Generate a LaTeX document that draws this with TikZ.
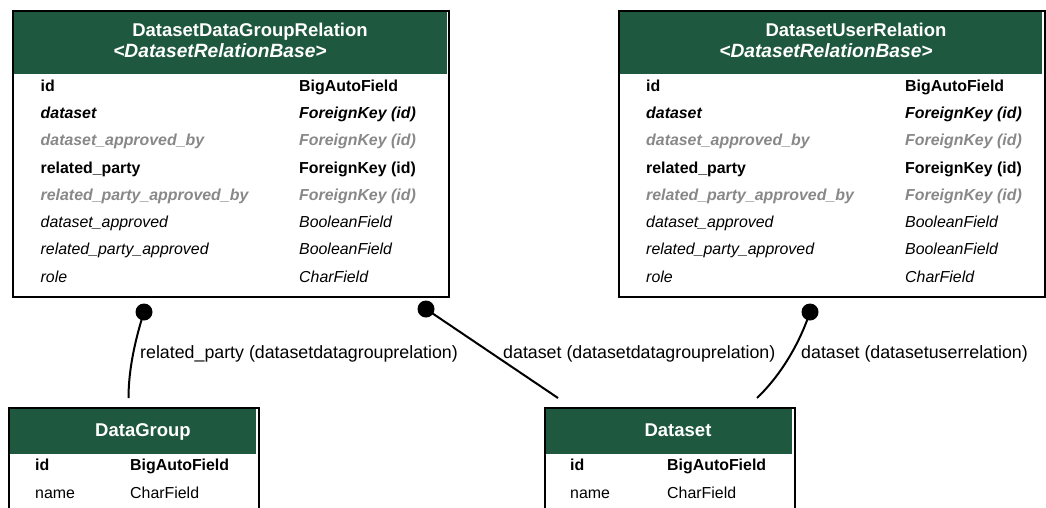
\documentclass[tikz,border=0pt]{standalone}
\usepackage{fontspec}
\setmainfont{Liberation Sans}
\definecolor{hdr}{RGB}{30,88,62}
\definecolor{muted}{RGB}{136,136,136}
\tikzset{
  tbl/.style={draw=black, line width=2pt, inner sep=0pt, anchor=north west},
  ttl/.style={text=white, anchor=base, inner sep=0pt, font=\fontsize{18.5}{20}\selectfont\bfseries},
  ttlit/.style={ttl, font=\fontsize{19.2}{20}\selectfont\bfseries\itshape},
  fld/.style={anchor=base west, inner sep=0pt, font=\fontsize{15.9}{18}\selectfont},
  fldb/.style={fld, font=\fontsize{15.9}{18}\selectfont\bfseries},
  fldbi/.style={fld, font=\fontsize{15.9}{18}\selectfont\bfseries\itshape},
  fldgi/.style={fldbi, text=muted},
  fldi/.style={fld, font=\fontsize{15.9}{18}\selectfont\itshape},
  lbl/.style={anchor=base west, inner sep=0pt, font=\fontsize{17.8}{19}\selectfont},
  dotend/.style={circle, fill=black, inner sep=0pt, minimum size=17pt},
  link/.style={line width=2pt},
}
\begin{document}
\begin{tikzpicture}[x=1pt, y=-1pt]
\useasboundingbox (0,0) rectangle (1046,507);
\clip (0,0) rectangle (1046,507);

% ---------- DatasetDataGroupRelation ----------
\fill[hdr] (14,11) rectangle (446.5,74);
\node[tbl, minimum width=436pt, minimum height=286pt] (dgr) at (12,10) {};
\node[ttl] (dgr-t1) at (250,36.5) {DatasetDataGroupRelation};
\node[ttlit] (dgr-t2) at (220,57.5) {<DatasetRelationBase>};
\node[fldb]  (dgr-n1) at (40.5,91)    {id};
\node[fldb]  (dgr-y1) at (299,91)     {BigAutoField};
\node[fldbi] (dgr-n2) at (40.5,118.3) {dataset};
\node[fldbi] (dgr-y2) at (299,118.3)  {ForeignKey (id)};
\node[fldgi] (dgr-n3) at (40.5,145.6) {dataset\_approved\_by};
\node[fldgi] (dgr-y3) at (299,145.6)  {ForeignKey (id)};
\node[fldb]  (dgr-n4) at (40.5,173)   {related\_party};
\node[fldb]  (dgr-y4) at (299,173)    {ForeignKey (id)};
\node[fldgi] (dgr-n5) at (40.5,200.2) {related\_party\_approved\_by};
\node[fldgi] (dgr-y5) at (299,200.2)  {ForeignKey (id)};
\node[fldi]  (dgr-n6) at (40.5,227.5) {dataset\_approved};
\node[fldi]  (dgr-y6) at (299,227.5)  {BooleanField};
\node[fldi]  (dgr-n7) at (40.5,254.8) {related\_party\_approved};
\node[fldi]  (dgr-y7) at (299,254.8)  {BooleanField};
\node[fldi]  (dgr-n8) at (40.5,282)   {role};
\node[fldi]  (dgr-y8) at (299,282)    {CharField};

% ---------- DatasetUserRelation ----------
\fill[hdr] (620,11) rectangle (1042,74);
\node[tbl, minimum width=426pt, minimum height=286pt] (dur) at (618,10) {};
\node[ttl] (dur-t1) at (856,36.5) {DatasetUserRelation};
\node[ttlit] (dur-t2) at (826,57.5) {<DatasetRelationBase>};
\node[fldb]  (dur-n1) at (646,91)    {id};
\node[fldb]  (dur-y1) at (905,91)    {BigAutoField};
\node[fldbi] (dur-n2) at (646,118.3) {dataset};
\node[fldbi] (dur-y2) at (905,118.3) {ForeignKey (id)};
\node[fldgi] (dur-n3) at (646,145.6) {dataset\_approved\_by};
\node[fldgi] (dur-y3) at (905,145.6) {ForeignKey (id)};
\node[fldb]  (dur-n4) at (646,173)   {related\_party};
\node[fldb]  (dur-y4) at (905,173)   {ForeignKey (id)};
\node[fldgi] (dur-n5) at (646,200.2) {related\_party\_approved\_by};
\node[fldgi] (dur-y5) at (905,200.2) {ForeignKey (id)};
\node[fldi]  (dur-n6) at (646,227.5) {dataset\_approved};
\node[fldi]  (dur-y6) at (905,227.5) {BooleanField};
\node[fldi]  (dur-n7) at (646,254.8) {related\_party\_approved};
\node[fldi]  (dur-y7) at (905,254.8) {BooleanField};
\node[fldi]  (dur-n8) at (646,282)   {role};
\node[fldi]  (dur-y8) at (905,282)   {CharField};

% ---------- DataGroup ----------
\fill[hdr] (9.5,408.5) rectangle (256,454);
\node[tbl, minimum width=250pt, minimum height=130pt] (dg) at (7.5,407) {};
\node[ttl] (dg-t1) at (143,436.5) {DataGroup};
\node[fldb] (dg-n1) at (35,470)  {id};
\node[fldb] (dg-y1) at (130,470) {BigAutoField};
\node[fld]  (dg-n2) at (35,498)  {name};
\node[fld]  (dg-y2) at (130,498) {CharField};

% ---------- Dataset ----------
\fill[hdr] (546,408.5) rectangle (792,454);
\node[tbl, minimum width=250pt, minimum height=130pt] (ds) at (544,407) {};
\node[ttl] (ds-t1) at (678,436.5) {Dataset};
\node[fldb] (ds-n1) at (570,470) {id};
\node[fldb] (ds-y1) at (667,470) {BigAutoField};
\node[fld]  (ds-n2) at (570,498) {name};
\node[fld]  (ds-y2) at (667,498) {CharField};

% ---------- relations ----------
\coordinate (dg-top) at (128.5,398);
\coordinate (ds-topl) at (558,398);
\coordinate (ds-topr) at (757,398);
\node[dotend] (rp-dot) at (144,312) {};
\node[dotend] (dsg-dot) at (426,309) {};
\node[dotend] (dsu-dot) at (810,312) {};

\draw[link] (rp-dot.center) .. controls (135,340) and (128.5,370) .. (dg-top);
\draw[link] (dsg-dot.center) -- (ds-topl);
\draw[link] (dsu-dot.center) .. controls (800,342) and (782,374) .. (ds-topr);

\node[lbl] (rp-lbl)  at (140,358) {related\_party (datasetdatagrouprelation)};
\node[lbl] (dsg-lbl) at (503,358) {dataset (datasetdatagrouprelation)};
\node[lbl] (dsu-lbl) at (801,358) {dataset (datasetuserrelation)};
\end{tikzpicture}
\end{document}
